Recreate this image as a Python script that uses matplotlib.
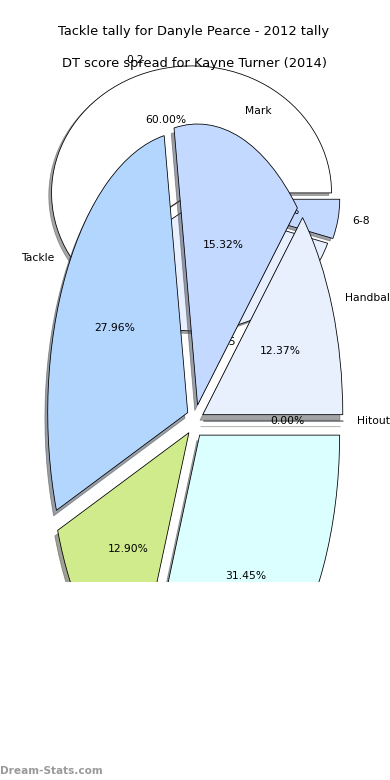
import matplotlib
matplotlib.use("Agg")
import matplotlib.pyplot as plt

# DT score spread (upper pie)
dt_labels = ['0-2', '3-5', '6-8']
dt_values = [60, 35, 5]
dt_colors = ['#ffffff', '#e8effe', '#c4d9ff']

# Tackle tally (lower pie)
stat_labels = ['Hitout', 'Handball', 'Mark', 'Tackle', 'Spoil', 'Kick']
stat_values = [0.00, 12.37, 15.32, 27.96, 12.90, 31.45]
stat_colors = ['#ffe0b3', '#e8f0fe', '#c4d9ff', '#b3d6ff', '#d0eb8c', '#dbffff']

plt.rcParams['font.size'] = 10.7
plt.rcParams['axes.titlesize'] = 13

W, H = 390, 780
fig = plt.figure(figsize=(W / 72, H / 72), dpi=72)

def box(left, top, width, height):
    return [left / W, (H - top - height) / H, width / W, height / H]

wedge_style = dict(edgecolor='black', linewidth=0.8)

# upper pie
ax1 = fig.add_axes(box(18.5, 39.6, 350, 317.5))
ax1.pie(dt_values, labels=dt_labels, colors=dt_colors, autopct='%.2f%%',
        explode=[0.045] * len(dt_values), shadow=True, startangle=0,
        wedgeprops=wedge_style)
ax1.set_aspect('auto')
ax1.set_xlim(-1.25, 1.25)
ax1.set_ylim(-1.25, 1.25)
ax1.set_title('Tackle tally for Danyle Pearce - 2012 tally', pad=5)

# lower pie
ax2 = fig.add_axes(box(20, 69.8, 350, 702.5))
ax2.pie(stat_values, labels=stat_labels, colors=stat_colors, autopct='%.2f%%',
        explode=[0.06] * len(stat_values), shadow=True, startangle=0,
        wedgeprops=wedge_style)
ax2.set_aspect('auto')
ax2.set_xlim(-1.25, 1.25)
ax2.set_ylim(-1.25, 1.25)
ax2.set_title('DT score spread for Kayne Turner (2014)', pad=3)

# blank panel that hides the bottom of the chart
cover = fig.add_axes(box(0, 582, W, H - 582))
cover.set_facecolor('white')
cover.set_xticks([])
cover.set_yticks([])
for s in cover.spines.values():
    s.set_visible(False)

fig.text(0, 9 / H, 'Dream-Stats.com', fontsize=10.5, color='#9a9a9a',
         weight='bold', ha='left', va='center')

fig.savefig('out.png', dpi=72)
